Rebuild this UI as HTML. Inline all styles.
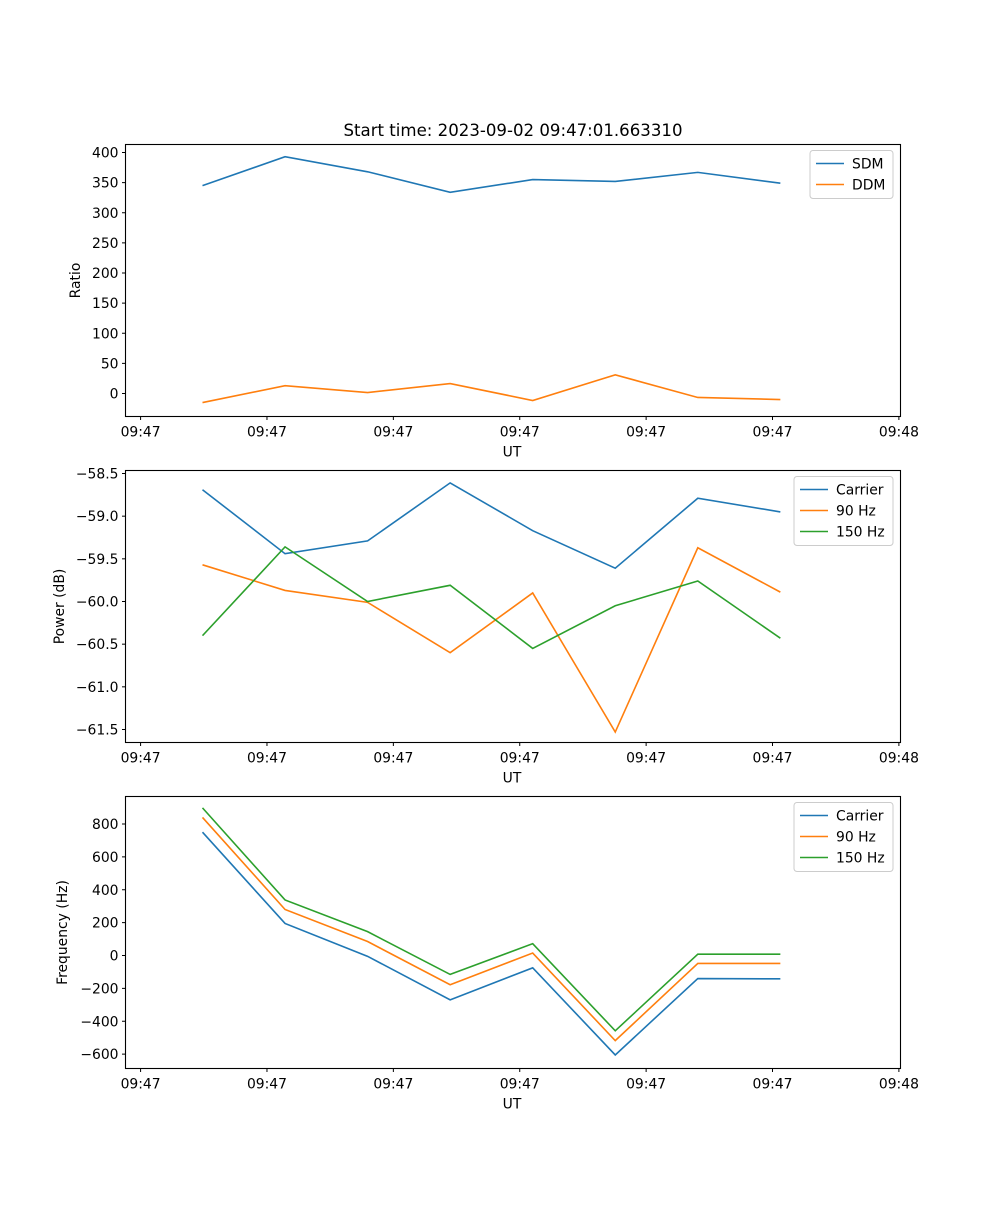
<!DOCTYPE html>
<html><head><meta charset="utf-8"><style>
body{margin:0;background:#fff}
svg text{font-family:"DejaVu Sans","Liberation Sans",sans-serif;font-size:13.9px;fill:#000}
</style></head><body>
<svg id="fig" width="1000" height="1200" viewBox="0 0 1000 1200" xmlns="http://www.w3.org/2000/svg">
<rect width="1000" height="1200" fill="#fff"/>
<text x="513" y="136" text-anchor="middle" style="font-size:16.6px">Start time: 2023-09-02 09:47:01.663310</text>
</svg>
<script>
const xTickLabels = ["09:47","09:47","09:47","09:47","09:47","09:47","09:48"];
const xTickPos = [-0.75,0.781,2.312,3.843,5.374,6.905,8.436];
const sdm = [345,393,368,334,355,352,367,349];
const ddm = [-15,13,1.6,16.5,-11.6,31,-6.6,-10];
const pwrCarrier = [-58.69,-59.44,-59.29,-58.61,-59.17,-59.61,-58.79,-58.95];
const pwr90 = [-59.57,-59.87,-60.01,-60.60,-59.90,-61.53,-59.37,-59.89];
const pwr150 = [-60.40,-59.36,-60.00,-59.81,-60.55,-60.05,-59.76,-60.43];
const frqCarrier = [750,195,-5,-270,-75,-605,-140,-142];
const frq90 = [840,280,85,-178,15,-518,-48,-48];
const frq150 = [898,338,145,-115,72,-458,8,8];
const yTicks1 = [0,50,100,150,200,250,300,350,400];
const yTicks2 = [-61.5,-61.0,-60.5,-60.0,-59.5,-59.0,-58.5];
const yTicks3 = [-600,-400,-200,0,200,400,600,800];

const NS="http://www.w3.org/2000/svg";
const svg=document.getElementById('fig');
const C=["#1f77b4","#ff7f0e","#2ca02c"];
function mk(t,a,p){const e=document.createElementNS(NS,t);for(const k in a)e.setAttribute(k,a[k]);(p||svg).appendChild(e);return e;}
const L=125.5,R=900.5;
function xS(i){return 202.5+i*82.55;}
function panel(name,top,bottom,y0v,y0p,y1v,y1p,ticks,fmt,ylabel,series,names,legend){
  const g=mk('g',{});
  
  
  const yS=v=>y0p+(v-y0v)*(y1p-y0p)/(y1v-y0v);
  series.forEach((s,k)=>{
    const p=mk('polyline',{points:s.map((v,i)=>xS(i)+','+yS(v)).join(' '),fill:'none',stroke:C[k],'stroke-width':1.6},g);
    
    
  });
  const fr=mk('rect',{x:L,y:top,width:R-L,height:bottom-top,fill:'none',stroke:'#000','stroke-width':1.1},g);
  
  
  ticks.forEach(v=>{const y=yS(v);
    mk('line',{x1:L-3.5,x2:L,y1:y,y2:y,stroke:'#000'},g);
    const t=mk('text',{x:L-7,y:y+5,'text-anchor':'end'},g);t.textContent=fmt(v);
    
    });
  xTickPos.forEach((v,i)=>{const x=xS(v);
    mk('line',{x1:x,x2:x,y1:bottom,y2:bottom+3.5,stroke:'#000'},g);
    const t=mk('text',{x:x,y:bottom+20,'text-anchor':'middle'},g);t.textContent=xTickLabels[i];
    
    });
  const xl=mk('text',{x:512,y:bottom+40,'text-anchor':'middle'},g);xl.textContent='UT';
  
  
  const cy=(top+bottom)/2;
  const yl=mk('text',{x:0,y:0,'text-anchor':'middle',transform:`translate(${legend.yx},${cy}) rotate(-90)`},g);yl.textContent=ylabel;
  
  
  const lg=mk('g',{},g);
  
  
  mk('rect',{x:legend.x,y:top+6,width:legend.w,height:names.length*21+6,rx:3,fill:'#fff',stroke:'#ccc'},lg);
  names.forEach((n,k)=>{const y=top+19+k*21;
    mk('line',{x1:legend.x+6,x2:legend.x+34,y1:y,y2:y,stroke:C[k],'stroke-width':1.6},lg);
    const t=mk('text',{x:legend.x+42,y:y+5},lg);t.textContent=n;
    
    });
}
panel('ratio-panel',144.5,416.5,0,393.5,400,152.5,yTicks1,v=>String(v),'Ratio',[sdm,ddm],['SDM','DDM'],{x:810,w:83,yx:80});
panel('power-panel',470.5,742.5,-58.5,473.5,-61.5,729.5,yTicks2,v=>'\u2212'+Math.abs(v).toFixed(1),'Power (dB)',[pwrCarrier,pwr90,pwr150],['Carrier','90 Hz','150 Hz'],{x:794,w:99,yx:64});
panel('frequency-panel',796.5,1068.5,0,955.5,800,824,yTicks3,v=>v<0?'\u2212'+(-v):String(v),'Frequency (Hz)',[frqCarrier,frq90,frq150],['Carrier','90 Hz','150 Hz'],{x:794,w:99,yx:67});
</script>
</body></html>
